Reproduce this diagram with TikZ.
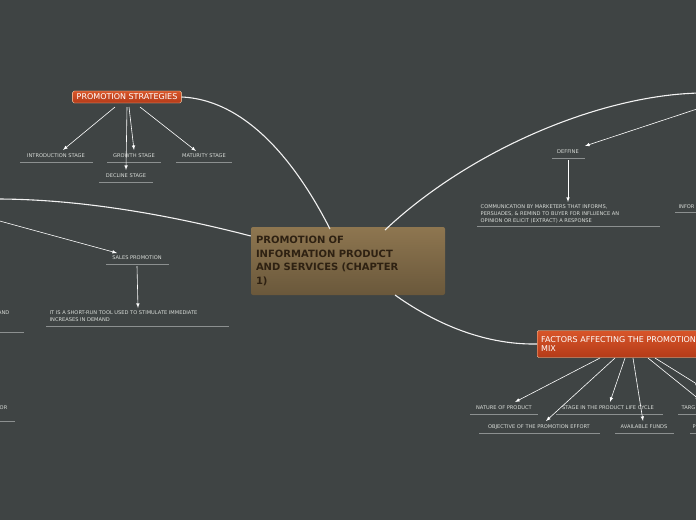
\documentclass[tikz,border=0pt]{standalone}
\usepackage{fontspec}
\setmainfont{DejaVu Sans}
\usetikzlibrary{positioning}
\definecolor{bg}{HTML}{3F4444}
\definecolor{sub}{HTML}{D8DCD8}
\definecolor{subline}{HTML}{8C9090}
\definecolor{topA}{HTML}{D8562A}
\definecolor{topB}{HTML}{B43A18}
\definecolor{mainA}{HTML}{8E7650}
\definecolor{mainB}{HTML}{6A583B}
\definecolor{maintext}{HTML}{2E2112}
\begin{document}
\begin{tikzpicture}[x=1pt,y=-1pt,
  topic/.style={draw=white!70!orange, rounded corners=1.5pt, top color=topA,
     bottom color=topB, text=white, font=\fontsize{8}{9.5}\selectfont,
     align=left, inner xsep=4pt, inner ysep=3pt},
  leaf/.style={text=sub, font=\fontsize{5.1}{7}\selectfont, align=left, inner sep=1.5pt},
  uline/.style={draw=subline, line width=0.9pt},
  conn/.style={draw=white!90!gray, line width=1.1pt},
  arr/.style={draw=white, line width=0.6pt, -latex}]
\fill[bg] (0,0) rectangle (696,520);
\clip (0,0) rectangle (696,520);
\useasboundingbox (0,0) rectangle (696,520);

% main topic
\node[rounded corners=2pt, top color=mainA, bottom color=mainB,
      text=maintext, font=\bfseries\fontsize{10}{13.5}\selectfont, align=left,
      minimum width=194pt, minimum height=68pt, text width=184pt] (main) at (348,261)
  {PROMOTION OF\\INFORMATION PRODUCT\\AND SERVICES (CHAPTER\\1)};

% branches
\node[topic] (strat) at (127,97) {PROMOTION STRATEGIES};
\node[topic, anchor=west, minimum height=27pt, text width=170pt] (fact) at (537,344)
  {FACTORS AFFECTING THE PROMOTION\\MIX};
\coordinate (ur) at (700,93);
\coordinate (ur2) at (700,108);
\coordinate (ul) at (-4,199);
\coordinate (ul2) at (-4,220);

\draw[conn] (330,229) .. controls (300,170) and (250,100) .. (strat.east);
\draw[conn] (385,230) .. controls (470,150) and (600,95) .. (ur);
\draw[conn] (main.west |- 0,236) .. controls (170,215) and (80,199) .. (ul);
\draw[conn] (395,295) .. controls (430,320) and (480,345) .. (fact.west);

% stages
\node[leaf] (intro) at (56,156) {INTRODUCTION STAGE};
\node[leaf] (grow) at (134,156) {GROWTH STAGE};
\node[leaf] (mat) at (204,156) {MATURITY STAGE};
\node[leaf] (dec) at (126,176) {DECLINE STAGE};
\draw[uline] (20,162) -- (93,162) (107,162) -- (161,162) (176,162) -- (232,162) (99,182) -- (153,182);
\draw[arr] (115,107) -- (63,150);
\draw[arr] (127,107) -- (126,170);
\draw[arr] (129,107) -- (134,150);
\draw[arr] (140,107) -- (196,151);

% sales promotion
\node[leaf] (sales) at (137,258) {SALES PROMOTION};
\draw[uline] (106,264) -- (169,264);
\draw[arr] (ul2) -- (117,253);
\node[leaf, anchor=north west] (salesd) at (48,309)
  {IT IS A SHORT-RUN TOOL USED TO STIMULATE IMMEDIATE\\INCREASES IN DEMAND};
\draw[uline] (46,326) -- (229,326);
\draw[arr] (sales.south |- 0,266) -- (138,308);
\node[leaf, anchor=east] (frag1) at (11,313) {AND};
\draw[uline] (0,332) -- (24,332);
\node[leaf, anchor=east] (frag2) at (9,408) {OR};
\draw[uline] (0,421) -- (15,421);

% define
\node[leaf] (def) at (568,152) {DEFFINE};
\draw[uline] (552,158) -- (585,158);
\draw[arr] (ur2) -- (585,146);
\node[leaf, anchor=north west] (defd) at (479,203)
  {COMMUNICATION BY MARKETERS THAT INFORMS,\\PERSUADES, \& REMIND TO BUYER FOR INFLUENCE AN\\OPINION OR ELICIT (EXTRACT) A RESPONSE};
\draw[uline] (477,226) -- (660,226);
\draw[arr] (568,160) -- (568,202);
\node[leaf, anchor=west] (frag3) at (677,207) {INFOR};
\draw[uline] (675,212) -- (696,212);

% factors
\node[leaf] (nat) at (504,408) {NATURE OF PRODUCT};
\node[leaf] (stage) at (608,408) {STAGE IN THE PRODUCT LIFE CYCLE};
\node[leaf] (obj) at (539,427) {OBJECTIVE OF THE PROMOTION EFFORT};
\node[leaf] (fund) at (644,427) {AVAILABLE FUNDS};
\node[leaf, anchor=west] (frag4) at (680,408) {TARG};
\node[leaf, anchor=west] (frag5) at (691,427) {P};
\draw[uline] (470,414) -- (538,414) (556,414) -- (663,414) (678,414) -- (696,414)
  (479,433) -- (600,433) (615,433) -- (674,433) (690,433) -- (696,433);
\draw[arr] (600,358) -- (515,402);
\draw[arr] (615,358) -- (546,421);
\draw[arr] (625,358) -- (610,402);
\draw[arr] (633,358) -- (643,421);
\draw[arr] (648,358) -- (700,400);
\draw[arr] (655,358) -- (700,386);
\end{tikzpicture}
\end{document}
